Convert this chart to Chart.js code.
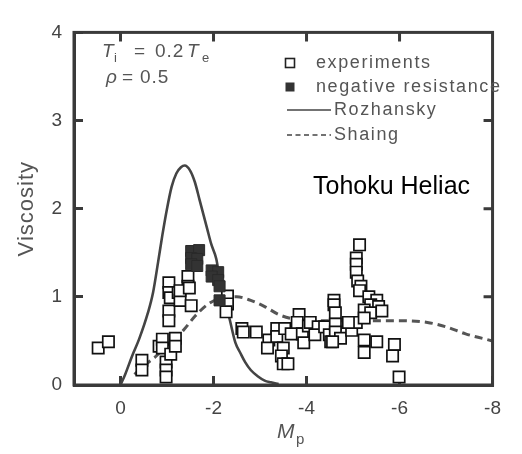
<!DOCTYPE html>
<html><head><meta charset="utf-8">
<script src="https://cdn.jsdelivr.net/npm/chart.js@4/dist/chart.umd.min.js"></script>
<style>html,body{margin:0;padding:0;background:#fff;overflow:hidden}</style>
</head><body>
<canvas id="c" width="522" height="454"></canvas>
<script>
const xTicks = [0, -2, -4, -6, -8];
const yTicks = [0, 1, 2, 3, 4];

const expM = [0.48,0.26,-0.46,-0.46,-0.83,-0.9,-0.9,-0.98,-0.98,-0.98,-1.08,-1.18,-1.18,
  -1.04,-1.04,-1.07,-1.04,-1.04,-1.24,-1.28,-1.52,-1.45,-1.45,-1.28,-1.48,
  -2.30,-2.30,-2.27,
  -2.61,-2.64,-2.92,-3.19,-3.16,-3.36,-3.36,-3.5,-3.46,-3.5,-3.6,-3.53,-3.67,-3.84,-3.80,-3.91,-3.94,
  -4.04,-4.08,-4.25,-4.18,-4.39,-4.49,-4.52,-4.59,-4.59,-4.62,-4.62,-4.62,-4.73,-4.56,-4.97,-5.07,-4.9,
  -5.14,-5.07,-5.07,-5.07,-5.1,-5.17,-5.14,-5.34,-5.51,-5.38,-5.55,-5.24,-5.38,-5.62,-5.24,
  -5.24,-5.24,-5.51,-5.89,-5.85,-5.99];
const expV = [0.42,0.49,0.28,0.17,0.44,0.52,0.42,0.26,0.17,0.09,0.35,0.53,0.44,
  1.16,1.05,0.99,0.84,0.73,1.05,0.96,0.90,1.23,1.12,1.07,1.10,
  1.01,0.92,0.83,
  0.64,0.60,0.60,0.51,0.42,0.64,0.55,0.42,0.33,0.24,0.24,0.64,0.58,0.80,0.71,0.58,0.48,
  0.67,0.71,0.66,0.57,0.66,0.57,0.49,0.96,0.91,0.82,0.69,0.60,0.53,0.49,0.62,0.71,0.71,
  1.59,1.44,1.37,1.28,1.18,1.12,1.07,1.00,0.96,0.91,0.89,0.85,0.82,0.84,0.76,
  0.51,0.37,0.49,0.46,0.33,0.09];

const negM = [-1.52,-1.69,-1.52,-1.65,-1.52,-1.65,-1.96,-2.10,-1.96,-2.10,-2.13,-2.13];
const negV = [1.52,1.53,1.44,1.43,1.37,1.35,1.30,1.28,1.23,1.19,1.12,0.96];

const rozM = [0,-0.1,-0.25,-0.4,-0.59,-0.7,-0.81,-0.9,-1.0,-1.1,-1.2,-1.3,-1.38,-1.5,-1.6,-1.7,-1.86,-1.95,-2.06,-2.15,-2.25,-2.34,-2.47,-2.58,-2.68,-2.8,-2.95,-3.1,-3.23,-3.4];
const rozV = [0,0.12,0.33,0.52,0.82,1.05,1.4,1.7,2.0,2.25,2.4,2.47,2.49,2.43,2.3,2.1,1.78,1.6,1.43,1.15,0.93,0.76,0.48,0.36,0.26,0.17,0.10,0.05,0.03,0.01];

const shaM = [-0.3,-0.53,-0.73,-1.0,-1.35,-1.6,-1.89,-2.2,-2.5,-2.8,-3.1,-3.4,-3.7,-4.0,-4.5,-5.0,-5.5,-6.0,-6.6,-7.0,-7.42,-8.0];
const shaV = [0.12,0.23,0.31,0.45,0.62,0.78,0.92,0.99,1.0,0.96,0.89,0.80,0.75,0.73,0.73,0.73,0.73,0.73,0.71,0.66,0.58,0.50];

const legendItems = ['experiments', 'negative resistance', 'Rozhansky', 'Shaing'];

const pts = (xs, ys) => xs.map((v, i) => ({x: v, y: ys[i]}));
const FONT = '"Liberation Sans", Arial, Helvetica, sans-serif';
const FRAME = '#3a3a3a';

const decor = {
  id: 'decor',
  afterDraw(chart) {
    const ctx = chart.ctx;
    const a = chart.chartArea;
    const xs = chart.scales.x, ys = chart.scales.y;
    ctx.save();
    // full frame plus top/right inward ticks
    ctx.strokeStyle = FRAME; ctx.lineWidth = 3;
    ctx.strokeRect(a.left, a.top, a.right - a.left, a.bottom - a.top);
    ctx.beginPath();
    xTicks.forEach(v => {
      const px = xs.getPixelForValue(v);
      if (px < a.left + 3 || px > a.right - 3) return;
      ctx.moveTo(px, a.top); ctx.lineTo(px, a.top + 9);
    });
    yTicks.forEach(v => {
      const py = ys.getPixelForValue(v);
      if (py < a.top + 3 || py > a.bottom - 3) return;
      ctx.moveTo(a.right, py); ctx.lineTo(a.right - 9, py);
    });
    ctx.stroke();

    // legend
    ctx.fillStyle = '#555';
    ctx.textBaseline = 'middle';
    ctx.font = '18px ' + FONT;
    ctx.letterSpacing = '1.6px';
    const lx = 290, ly = [63, 87, 110, 135];
    ctx.strokeStyle = '#222'; ctx.lineWidth = 1.6;
    ctx.strokeRect(lx - 4.5, ly[0] - 4.5, 9, 9);
    ctx.fillText(legendItems[0], 316, ly[0]);
    ctx.fillStyle = '#333';
    ctx.fillRect(lx - 4.5, ly[1] - 4.5, 9, 9);
    ctx.fillStyle = '#555';
    ctx.fillText(legendItems[1], 316, ly[1]);
    ctx.strokeStyle = '#444'; ctx.lineWidth = 1.6;
    ctx.beginPath(); ctx.moveTo(287, ly[2]); ctx.lineTo(331, ly[2]); ctx.stroke();
    ctx.fillText(legendItems[2], 334, ly[2]);
    ctx.setLineDash([5, 3.5]);
    ctx.beginPath(); ctx.moveTo(287, ly[3]); ctx.lineTo(331, ly[3]); ctx.stroke();
    ctx.setLineDash([]);
    ctx.fillText(legendItems[3], 334, ly[3]);

    // parameters annotation
    ctx.textBaseline = 'alphabetic';
    ctx.letterSpacing = '1px';
    ctx.fillStyle = '#555';
    ctx.font = 'italic 19px ' + FONT;
    ctx.fillText('T', 102, 57);
    ctx.font = '13px ' + FONT;
    ctx.fillText('i', 114, 62);
    ctx.font = '19px ' + FONT;
    ctx.fillText('=', 134, 57);
    ctx.fillText('0.2', 155, 57);
    ctx.font = 'italic 19px ' + FONT;
    ctx.fillText('T', 187, 57);
    ctx.font = '13px ' + FONT;
    ctx.fillText('e', 202, 62);
    ctx.font = 'italic 19px ' + FONT;
    ctx.fillText('\u03C1', 106, 83);
    ctx.font = '19px ' + FONT;
    ctx.fillText('=', 122, 83);
    ctx.fillText('0.5', 140, 83);

    ctx.letterSpacing = '0px';
    ctx.fillStyle = '#000';
    ctx.font = '25px ' + FONT;
    ctx.fillText('Tohoku Heliac', 313, 194);

    ctx.fillStyle = '#555';
    ctx.font = 'italic 21px ' + FONT;
    ctx.fillText('M', 277, 438);
    ctx.font = '15px ' + FONT;
    ctx.fillText('p', 296, 444);

    ctx.save();
    ctx.translate(33, (a.top + a.bottom) / 2);
    ctx.rotate(-Math.PI / 2);
    ctx.textAlign = 'center';
    ctx.font = '22px ' + FONT;
    ctx.letterSpacing = '1px';
    ctx.fillText('Viscosity', 0, 0);
    ctx.restore();

    ctx.restore();
  }
};

new Chart(document.getElementById('c'), {
  type: 'scatter',
  data: {
    datasets: [
      {label: legendItems[1], data: pts(negM, negV), order: 0, pointStyle: 'rect', pointRadius: 7.8,
       backgroundColor: '#333', borderColor: '#2a2a2a', borderWidth: 1},
      {label: legendItems[0], data: pts(expM, expV), order: 1, pointStyle: 'rect', pointRadius: 8,
       backgroundColor: '#fff', borderColor: '#111', borderWidth: 1.7},
      {label: legendItems[2], data: pts(rozM, rozV), order: 2, showLine: true, pointRadius: 0,
       borderColor: '#444', borderWidth: 2.6, cubicInterpolationMode: 'monotone', fill: false},
      {label: legendItems[3], data: pts(shaM, shaV), order: 3, showLine: true, pointRadius: 0,
       borderColor: '#555', borderWidth: 3, borderDash: [8, 5], cubicInterpolationMode: 'monotone', fill: false}
    ]
  },
  options: {
    responsive: false,
    devicePixelRatio: 1,
    animation: false,
    events: [],
    layout: {padding: {top: 14, right: 9}},
    plugins: {legend: {display: false}, tooltip: {enabled: false}},
    scales: {
      x: {
        type: 'linear', reverse: true, min: -8, max: 1,
        afterBuildTicks: s => { s.ticks = xTicks.map(v => ({value: v})); },
        afterFit: s => { s.height = 69; },
        grid: {display: true, drawOnChartArea: false, drawTicks: true, tickLength: -9,
               tickColor: FRAME, tickWidth: 3},
        border: {display: true, color: FRAME, width: 3},
        ticks: {font: {family: FONT, size: 19}, color: '#444', padding: 21, maxRotation: 0,
                callback: v => String(v)}
      },
      y: {
        type: 'linear', min: 0, max: 4,
        afterBuildTicks: s => { s.ticks = yTicks.map(v => ({value: v})); },
        afterFit: s => { s.width = 74; },
        grid: {display: true, drawOnChartArea: false, drawTicks: true, tickLength: -9,
               tickColor: FRAME, tickWidth: 3},
        border: {display: true, color: FRAME, width: 3},
        ticks: {font: {family: FONT, size: 19}, color: '#444', padding: 21,
                callback: v => String(v)}
      }
    }
  },
  plugins: [decor]
});
</script>
</body></html>
